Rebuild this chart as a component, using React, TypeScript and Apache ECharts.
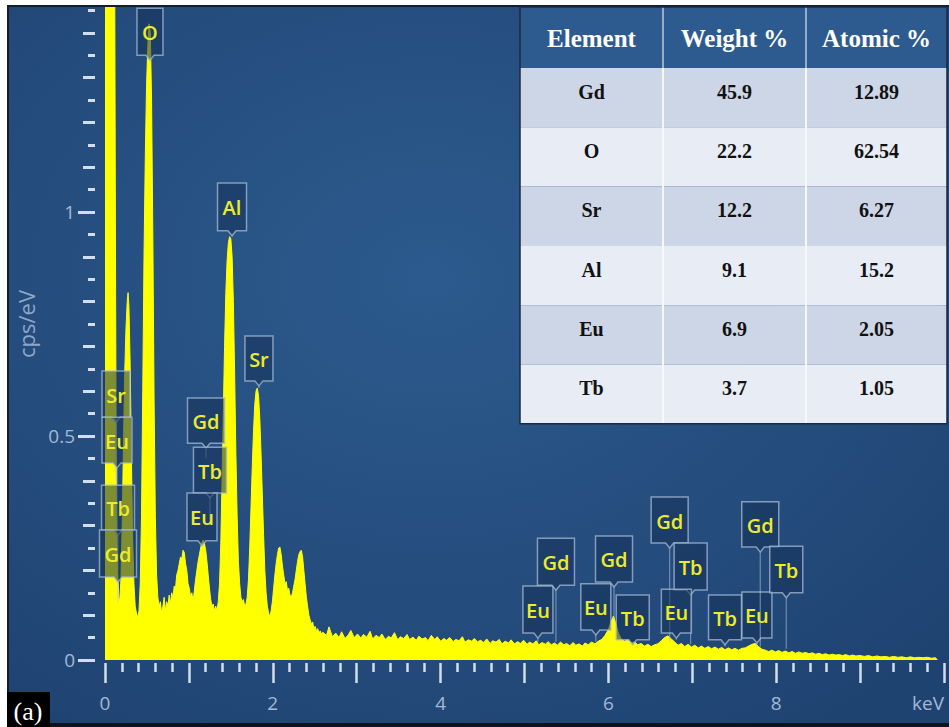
import React, { useEffect, useRef } from "react";
import * as echarts from "echarts";

// ---- Spectrum (keV, cps/eV) ----
const peakRegion: [number, number][] = [
  [0.00, 1.60], [0.03, 1.60], [0.06, 1.60], [0.09, 1.60], [0.115, 1.58], [0.125, 0.90], [0.135, 0.38],
  [0.15, 0.20], [0.165, 0.14], [0.175, 0.13], [0.19, 0.18], [0.205, 0.30], [0.22, 0.48], [0.235, 0.64],
  [0.25, 0.74], [0.265, 0.80], [0.275, 0.82], [0.285, 0.79], [0.30, 0.66], [0.315, 0.45], [0.33, 0.27],
  [0.345, 0.17], [0.36, 0.12], [0.375, 0.105], [0.39, 0.095], [0.405, 0.11], [0.42, 0.17], [0.435, 0.32],
  [0.45, 0.60], [0.465, 0.90], [0.48, 1.12], [0.495, 1.28], [0.51, 1.37], [0.525, 1.42], [0.54, 1.40],
  [0.555, 1.25], [0.57, 0.95], [0.585, 0.58], [0.60, 0.32], [0.615, 0.19], [0.63, 0.14], [0.645, 0.12],
  [0.66, 0.13], [0.675, 0.105], [0.69, 0.12], [0.705, 0.14], [0.72, 0.11], [0.735, 0.13], [0.75, 0.12],
  [0.765, 0.145], [0.78, 0.125], [0.795, 0.15], [0.81, 0.14], [0.825, 0.165], [0.84, 0.16], [0.855, 0.19],
  [0.87, 0.20], [0.885, 0.215], [0.90, 0.23], [0.915, 0.225], [0.93, 0.245], [0.945, 0.24], [0.96, 0.215],
  [0.975, 0.20], [0.99, 0.17], [1.005, 0.16], [1.02, 0.14], [1.035, 0.15], [1.05, 0.13], [1.065, 0.155],
  [1.08, 0.18], [1.095, 0.20], [1.11, 0.22], [1.125, 0.235], [1.14, 0.25], [1.155, 0.262], [1.17, 0.268],
  [1.185, 0.26], [1.20, 0.245], [1.215, 0.22], [1.23, 0.19], [1.245, 0.16], [1.26, 0.135], [1.275, 0.12],
  [1.29, 0.125], [1.305, 0.11], [1.32, 0.12], [1.335, 0.11], [1.35, 0.13], [1.365, 0.17], [1.38, 0.26],
  [1.395, 0.40], [1.41, 0.55], [1.425, 0.70], [1.44, 0.82], [1.455, 0.89], [1.47, 0.93], [1.485, 0.945],
  [1.50, 0.94], [1.515, 0.90], [1.53, 0.80], [1.545, 0.64], [1.56, 0.46], [1.575, 0.32], [1.59, 0.22],
  [1.605, 0.17], [1.62, 0.14], [1.635, 0.13], [1.65, 0.135], [1.665, 0.12], [1.68, 0.125], [1.695, 0.14],
  [1.71, 0.18], [1.725, 0.25], [1.74, 0.34], [1.755, 0.43], [1.77, 0.51], [1.785, 0.57], [1.80, 0.60],
  [1.815, 0.607], [1.83, 0.59], [1.845, 0.54], [1.86, 0.46], [1.875, 0.37], [1.89, 0.28], [1.905, 0.20],
  [1.92, 0.15], [1.935, 0.12], [1.95, 0.105], [1.965, 0.096], [1.98, 0.11], [1.995, 0.13], [2.01, 0.16],
  [2.025, 0.19], [2.04, 0.215], [2.055, 0.235], [2.07, 0.25], [2.085, 0.252], [2.10, 0.235], [2.115, 0.21],
  [2.13, 0.19], [2.145, 0.17], [2.16, 0.175], [2.175, 0.155], [2.19, 0.16], [2.205, 0.145], [2.22, 0.14],
  [2.235, 0.15], [2.25, 0.165], [2.265, 0.18], [2.28, 0.20], [2.295, 0.22], [2.31, 0.235], [2.325, 0.242],
  [2.34, 0.245], [2.355, 0.23], [2.37, 0.20], [2.385, 0.17], [2.40, 0.14], [2.415, 0.12], [2.43, 0.10],
  [2.445, 0.09], [2.46, 0.08], [2.475, 0.085], [2.49, 0.07], [2.505, 0.075], [2.52, 0.065], [2.535, 0.07],
  [2.55, 0.06], [2.565, 0.065], [2.58, 0.058], [2.595, 0.062],
];

const backgroundRegion: [number, number][] = [
  [2.60, 0.062], [2.64, 0.055], [2.67, 0.074], [2.71, 0.052], [2.75, 0.060], [2.79, 0.050], [2.82, 0.063],
  [2.86, 0.048], [2.90, 0.056], [2.93, 0.066], [2.97, 0.050], [3.01, 0.058], [3.05, 0.049], [3.08, 0.057],
  [3.12, 0.051], [3.16, 0.064], [3.19, 0.047], [3.23, 0.055], [3.27, 0.050], [3.30, 0.058], [3.34, 0.046],
  [3.38, 0.053], [3.41, 0.049], [3.45, 0.061], [3.49, 0.045], [3.52, 0.052], [3.56, 0.048], [3.60, 0.057],
  [3.63, 0.046], [3.67, 0.051], [3.71, 0.044], [3.74, 0.053], [3.78, 0.047], [3.82, 0.050], [3.85, 0.043],
  [3.89, 0.055], [3.93, 0.046], [3.96, 0.052], [4.00, 0.042], [4.04, 0.048], [4.07, 0.044], [4.11, 0.050],
  [4.15, 0.041], [4.18, 0.046], [4.22, 0.043], [4.26, 0.052], [4.29, 0.040], [4.33, 0.045], [4.37, 0.042],
  [4.40, 0.048], [4.44, 0.041], [4.48, 0.044], [4.51, 0.039], [4.55, 0.047], [4.59, 0.037], [4.62, 0.043],
  [4.66, 0.040], [4.70, 0.046], [4.73, 0.036], [4.77, 0.042], [4.81, 0.038], [4.84, 0.045], [4.88, 0.036],
  [4.92, 0.041], [4.95, 0.037], [4.99, 0.044], [5.03, 0.035], [5.06, 0.040], [5.10, 0.036], [5.14, 0.043],
  [5.17, 0.034], [5.21, 0.039], [5.25, 0.035], [5.28, 0.041], [5.32, 0.034], [5.36, 0.038], [5.39, 0.033],
  [5.43, 0.040], [5.47, 0.034], [5.50, 0.037], [5.54, 0.032], [5.58, 0.039], [5.61, 0.033], [5.65, 0.036],
  [5.69, 0.031], [5.72, 0.038], [5.76, 0.034], [5.80, 0.040], [5.84, 0.036], [5.88, 0.042], [5.92, 0.046],
  [5.96, 0.055], [6.00, 0.068], [6.03, 0.085], [6.06, 0.098], [6.09, 0.080], [6.12, 0.060], [6.15, 0.048],
  [6.19, 0.042], [6.23, 0.045], [6.27, 0.038], [6.31, 0.041], [6.35, 0.034], [6.39, 0.037], [6.43, 0.031],
  [6.47, 0.035], [6.51, 0.030], [6.55, 0.034], [6.59, 0.036], [6.63, 0.043], [6.67, 0.050], [6.71, 0.054],
  [6.75, 0.047], [6.79, 0.040], [6.83, 0.033], [6.87, 0.037], [6.91, 0.030], [6.95, 0.035], [6.99, 0.029],
  [7.03, 0.033], [7.07, 0.027], [7.11, 0.031], [7.15, 0.026], [7.19, 0.030], [7.23, 0.025], [7.27, 0.029],
  [7.31, 0.024], [7.35, 0.028], [7.39, 0.023], [7.43, 0.027], [7.47, 0.023], [7.51, 0.026], [7.55, 0.022],
  [7.59, 0.026], [7.63, 0.027], [7.67, 0.031], [7.71, 0.035], [7.75, 0.037], [7.79, 0.030], [7.83, 0.024],
  [7.87, 0.022], [7.91, 0.019], [7.95, 0.022], [7.99, 0.018], [8.03, 0.021], [8.07, 0.017], [8.11, 0.020],
  [8.15, 0.016], [8.19, 0.019], [8.23, 0.015], [8.27, 0.018], [8.31, 0.015], [8.35, 0.017], [8.39, 0.014],
  [8.43, 0.016], [8.47, 0.013], [8.51, 0.015], [8.55, 0.012], [8.59, 0.014], [8.63, 0.011], [8.67, 0.013],
  [8.71, 0.011], [8.75, 0.012], [8.79, 0.010], [8.83, 0.012], [8.87, 0.009], [8.91, 0.011], [8.95, 0.009],
  [9.00, 0.010], [9.05, 0.008], [9.10, 0.010], [9.15, 0.007], [9.20, 0.009], [9.25, 0.007], [9.30, 0.008],
  [9.35, 0.006], [9.40, 0.008], [9.45, 0.006], [9.50, 0.007], [9.55, 0.005], [9.60, 0.007], [9.65, 0.005],
  [9.70, 0.006], [9.75, 0.005], [9.80, 0.006], [9.85, 0.004], [9.90, 0.005], [9.92, 0.0],
];

// ---- Peak annotations ----
const labelNames = ["O", "Al", "Sr", "Gd", "Tb", "Eu", "Sr", "Eu", "Tb", "Gd", "Eu", "Gd", "Eu", "Gd", "Tb", "Gd", "Tb", "Eu", "Tb", "Eu", "Gd", "Tb"];
const labelKeV = [0.536, 1.514, 1.835, 1.204, 1.251, 1.156, 0.131, 0.143, 0.155, 0.155, 5.16, 5.375, 5.85, 6.067, 6.29, 6.73, 6.98, 6.81, 7.39, 7.77, 7.81, 8.12];
const labelBottom = [1.350, 0.958, 0.623, 0.484, 0.373, 0.266, 0.542, 0.440, 0.290, 0.185, 0.060, 0.167, 0.067, 0.174, 0.045, 0.261, 0.156, 0.060, 0.045, 0.049, 0.252, 0.150];
const labelTop = [1.455, 1.065, 0.723, 0.585, 0.475, 0.373, 0.645, 0.542, 0.390, 0.290, 0.165, 0.272, 0.170, 0.277, 0.145, 0.364, 0.261, 0.158, 0.145, 0.152, 0.353, 0.254];
const labelTarget = [1.34, 0.945, 0.607, 0.45, 0.30, 0.26, 0.40, 0.30, 0.20, 0.13, 0.04, 0.04, 0.04, 0.09, 0.035, 0.04, 0.035, 0.045, 0.03, 0.03, 0.03, 0.025];

// ---- Axis tick labels ----
const xTickLabels: Record<number, string> = { 0: "0", 2: "2", 4: "4", 6: "6", 8: "8", 10: "keV" };
const yTickLabels: Record<string, string> = { "0": "0", "0.5": "0.5", "1": "1" };

// ---- Table ----
const tableHeaders = ["Element", "Weight %", "Atomic %"];
const tableElements = ["Gd", "O", "Sr", "Al", "Eu", "Tb"];
const tableWeight = ["45.9", "22.2", "12.2", "9.1", "6.9", "3.7"];
const tableAtomic = ["12.89", "62.54", "6.27", "15.2", "2.05", "1.05"];

const tickColor = "#d3deed";
const labelColor = "#a3b9d6";
const boxWidths: Record<string, number> = { Gd: 37, Tb: 33, Eu: 30, Sr: 28, Al: 29, O: 26 };

function buildTable(): any[] {
  const els: any[] = [];
  const colX = [520, 663, 806, 947];
  const top = 7;
  const headH = 61;
  const rowH = 59.3;
  const z = 80;
  els.push({ type: "rect", z, shape: { x: colX[0], y: top, width: colX[3] - colX[0], height: headH }, style: { fill: "#2e5b8f" } });
  tableElements.forEach((_, i) => {
    els.push({
      type: "rect", z,
      shape: { x: colX[0], y: top + headH + i * rowH, width: colX[3] - colX[0], height: rowH },
      style: { fill: i % 2 === 0 ? "#cdd6e6" : "#e8edf5" },
    });
  });
  [colX[1], colX[2]].forEach((cx) => {
    els.push({ type: "line", z: z + 1, shape: { x1: cx, y1: top, x2: cx, y2: top + headH }, style: { stroke: "#b9c8dc", lineWidth: 1.5 } });
    els.push({ type: "line", z: z + 1, shape: { x1: cx, y1: top + headH, x2: cx, y2: top + headH + 6 * rowH }, style: { stroke: "#f6f8fc", lineWidth: 2 } });
  });
  els.push({ type: "rect", z: z + 2, shape: { x: colX[0], y: top, width: colX[3] - colX[0], height: headH + 6 * rowH }, style: { fill: "none", stroke: "#1b2a40", lineWidth: 1.5 } });
  tableHeaders.forEach((h, c) => {
    els.push({
      type: "text", z: z + 3, x: (colX[c] + colX[c + 1]) / 2, y: top + headH / 2 + 1,
      style: { text: h, fill: "#ffffff", font: 'bold 25px "Liberation Serif"', textAlign: "center", textVerticalAlign: "middle", align: "center", verticalAlign: "middle" },
    });
  });
  const cols = [tableElements, tableWeight, tableAtomic];
  cols.forEach((arr, c) => {
    arr.forEach((t, i) => {
      els.push({
        type: "text", z: z + 3, x: (colX[c] + colX[c + 1]) / 2, y: top + headH + i * rowH + rowH / 2 - 6,
        style: { text: t, fill: "#111111", font: 'bold 20px "Liberation Serif"', textAlign: "center", textVerticalAlign: "middle", align: "center", verticalAlign: "middle" },
      });
    });
  });
  return els;
}

export default function App() {
  const ref = useRef<HTMLDivElement>(null);
  useEffect(() => {
    if (!ref.current) return;
    const chart = echarts.init(ref.current, null, { renderer: "svg" });
    const spectrum = [...peakRegion, ...backgroundRegion];
    const labelData = labelKeV.map((k, i) => [k, labelBottom[i], labelTop[i], labelTarget[i]]);

    const option: any = {
      animation: false,
      backgroundColor: "#ffffff",
      grid: { left: 105, right: 5, top: -12, bottom: 67, containLabel: false, outerBoundsMode: "none" },
      xAxis: {
        type: "value", min: 0, max: 10, interval: 1, offset: 3,
        axisLine: { show: false, onZero: false },
        axisTick: { show: true, length: 20, lineStyle: { color: tickColor, width: 2.5 } },
        minorTick: { show: true, splitNumber: 5, length: 9, lineStyle: { color: tickColor, width: 2.5 } },
        splitLine: { show: false }, minorSplitLine: { show: false },
        axisLabel: {
          color: labelColor, fontSize: 19, fontFamily: '"Open Sans"', margin: 30, hideOverlap: false,
          alignMaxLabel: "right",
          formatter: (v: number) => xTickLabels[Math.round(v)] ?? "",
        },
      },
      yAxis: [
        {
          type: "value", min: 0, max: 1.5, interval: 0.5, offset: 10,
          name: "cps/eV", nameLocation: "middle", nameGap: 56,
          nameTextStyle: { color: "#8ea7c6", fontSize: 22, fontFamily: '"Open Sans"' },
          axisLine: { show: false, onZero: false },
          axisTick: { show: true, length: 17, lineStyle: { color: tickColor, width: 3 } },
          minorTick: { show: true, splitNumber: 10, length: 7, lineStyle: { color: tickColor, width: 3 } },
          splitLine: { show: false }, minorSplitLine: { show: false },
          axisLabel: {
            color: labelColor, fontSize: 19, fontFamily: '"Open Sans"', margin: 20,
            formatter: (v: number) => yTickLabels[String(Math.round(v * 10) / 10)] ?? "",
          },
        },
        {
          type: "value", min: 0, max: 1.5, interval: 0.1, offset: 10, position: "left",
          axisLine: { show: false, onZero: false },
          axisTick: { show: true, length: 12, lineStyle: { color: tickColor, width: 3 } },
          axisLabel: { show: false }, splitLine: { show: false },
        },
      ],
      series: [
        {
          type: "line", data: spectrum, xAxisIndex: 0, yAxisIndex: 0,
          showSymbol: false, symbol: "none", clip: true, z: 2,
          lineStyle: { color: "#ffff10", width: 1 },
          areaStyle: { color: "#ffff00", opacity: 1 },
        },
        {
          type: "custom", data: labelData, xAxisIndex: 0, yAxisIndex: 0, z: 5,
          encode: { x: 0, y: [1, 2, 3] },
          renderItem: (params: any, api: any) => {
            const i = params.dataIndex;
            const name = labelNames[i];
            const p = api.coord([api.value(0), api.value(1)]);
            const cx = p[0];
            const yb = p[1];
            const yt = api.coord([api.value(0), api.value(2)])[1];
            const yTarget = api.coord([api.value(0), api.value(3)])[1];
            const w = boxWidths[name] || 30;
            const l = cx - w / 2;
            const r = cx + w / 2;
            return {
              type: "group",
              children: [
                { type: "line", shape: { x1: cx, y1: yb + 5, x2: cx, y2: Math.max(yTarget, yb + 5) }, style: { stroke: "rgba(175,195,220,0.55)", lineWidth: 1.2 } },
                {
                  type: "polygon",
                  shape: { points: [[l, yt], [r, yt], [r, yb], [cx + 4, yb], [cx, yb + 5], [cx - 4, yb], [l, yb]] },
                  style: { fill: "rgba(22,50,88,0.55)", stroke: "rgba(165,185,212,0.75)", lineWidth: 1.5 },
                },
                {
                  type: "text",
                  style: {
                    text: name, x: cx, y: (yt + yb) / 2 + 1, fill: "#ecec2a", font: '600 20px "Open Sans"',
                    textAlign: "center", textVerticalAlign: "middle", align: "center", verticalAlign: "middle",
                  },
                },
              ],
            };
          },
        },
      ],
      graphic: [
        {
          type: "rect", z: -10, silent: true,
          shape: { x: 7, y: 5, width: 942, height: 722 },
          style: {
            fill: new echarts.graphic.RadialGradient(0.45, 0.38, 0.75, [
              { offset: 0, color: "#2c5a8e" },
              { offset: 1, color: "#1f4371" },
            ]),
          },
        },
        { type: "rect", z: 60, silent: true, shape: { x: 0, y: 0, width: 949, height: 5 }, style: { fill: "#ffffff" } },
        { type: "rect", z: 60, silent: true, shape: { x: 0, y: 0, width: 7, height: 727 }, style: { fill: "#ffffff" } },
        { type: "rect", z: 61, silent: true, shape: { x: 8, y: 6, width: 945, height: 730 }, style: { fill: "none", stroke: "#151d2b", lineWidth: 2 } },
        { type: "rect", z: 61, silent: true, shape: { x: 7, y: 723, width: 942, height: 4 }, style: { fill: "#0e131d" } },
        { type: "rect", z: 70, silent: true, shape: { x: 7, y: 692, width: 43, height: 35 }, style: { fill: "#000000" } },
        {
          type: "text", z: 71, silent: true, x: 28, y: 711,
          style: { text: "(a)", fill: "#ffffff", font: '26px "Liberation Serif"', textAlign: "center", textVerticalAlign: "middle", align: "center", verticalAlign: "middle" },
        },
        ...buildTable(),
      ],
    };
    chart.setOption(option);
    return () => chart.dispose();
  }, []);
  return <div ref={ref} style={{ position: "fixed", left: 0, top: 0, width: 949, height: 727 }} />;
}
